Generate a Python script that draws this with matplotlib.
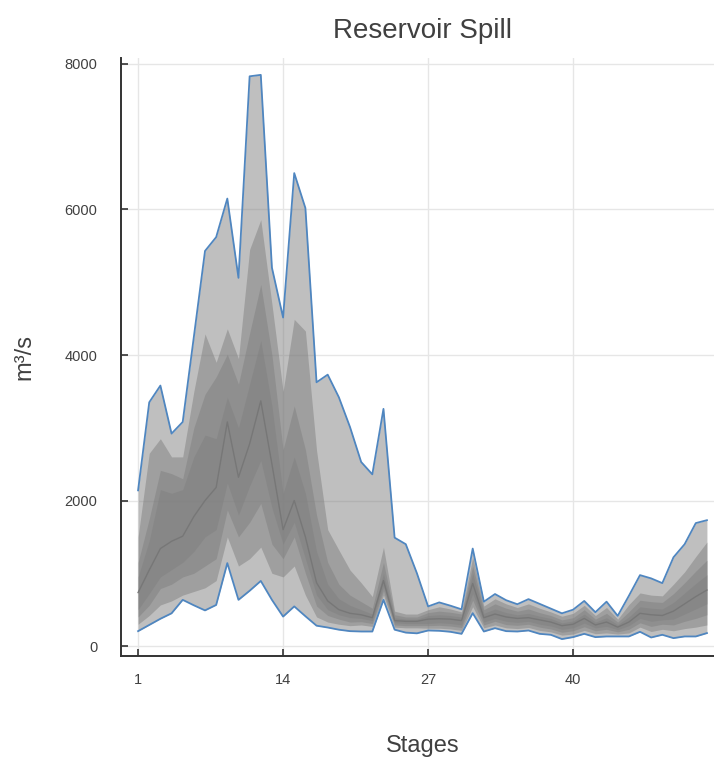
import numpy as np
import matplotlib.pyplot as plt

plt.rcParams['font.family'] = ['Liberation Sans', 'DejaVu Sans']

stages = np.arange(1, 53)

# spill quantiles per stage (m3/s): lowest/highest scenario and the inner bands
spill_min = [205, 290, 375, 450, 635, 560, 490, 565, 1140, 635, 760, 895, 635, 405, 545, 410,
             280, 255, 225, 205, 200, 200, 635, 225, 185, 175, 214, 210, 196, 168, 452, 200,
             246, 205, 200, 214, 168, 155, 96, 123, 168, 123, 132, 132, 132, 196, 118, 155,
             109, 132, 132, 178]
spill_lo3 = [300, 420, 565, 620, 700, 750, 800, 900, 1500, 1100, 1200, 1360, 1000, 950, 1100, 700,
             400, 330, 300, 280, 290, 270, 700, 260, 250, 250, 245, 245, 235, 215, 540, 250,
             290, 250, 240, 255, 215, 195, 150, 165, 215, 170, 180, 165, 180, 260, 200, 230,
             210, 240, 260, 290]
spill_lo2 = [400, 560, 790, 850, 950, 1000, 1100, 1200, 1870, 1500, 1700, 1960, 1400, 1200, 1500, 1000,
             550, 420, 370, 330, 335, 310, 760, 290, 280, 280, 280, 285, 275, 255, 630, 290,
             340, 295, 285, 300, 260, 235, 190, 210, 265, 210, 230, 195, 230, 320, 270, 300,
             290, 340, 380, 430]
spill_lo1 = [500, 720, 950, 1050, 1150, 1300, 1500, 1600, 2240, 1800, 2200, 2550, 1900, 1400, 1700, 1200,
             700, 500, 430, 390, 380, 350, 820, 320, 310, 310, 310, 320, 310, 290, 720, 330,
             380, 340, 325, 340, 300, 275, 230, 250, 315, 250, 270, 225, 280, 380, 340, 360,
             370, 440, 510, 580]
spill_med = [735, 1045, 1340, 1440, 1510, 1780, 2000, 2180, 3080, 2320, 2780, 3370, 2500, 1600, 2000, 1500,
             870, 620, 500, 450, 430, 390, 900, 350, 340, 340, 370, 375, 370, 350, 860, 390,
             440, 400, 380, 390, 360, 330, 280, 300, 380, 290, 330, 260, 330, 450, 430, 420,
             480, 580, 680, 770]
spill_hi1 = [950, 1450, 2150, 2100, 2150, 2600, 2900, 2850, 3420, 3000, 3600, 4200, 3300, 2100, 2600, 2100,
             1300, 850, 650, 560, 500, 440, 1000, 390, 370, 370, 420, 430, 420, 400, 1000, 450,
             510, 460, 430, 450, 410, 380, 320, 345, 440, 330, 390, 295, 400, 540, 520, 510,
             600, 730, 860, 980]
spill_hi2 = [1150, 1750, 2415, 2370, 2300, 3000, 3460, 3700, 4010, 3600, 4300, 4970, 4000, 2700, 3300, 2700,
             1800, 1150, 850, 700, 610, 520, 1150, 430, 400, 400, 460, 480, 465, 440, 1100, 500,
             580, 520, 480, 510, 460, 420, 360, 390, 500, 370, 450, 330, 470, 630, 610, 600,
             720, 870, 1030, 1180]
spill_hi3 = [1500, 2650, 2850, 2600, 2600, 3500, 4290, 3900, 4360, 3950, 5450, 5860, 4700, 3500, 4490, 4330,
             2690, 1600, 1320, 1045, 870, 680, 1360, 480, 440, 440, 500, 540, 510, 470, 1220, 550,
             650, 580, 530, 580, 520, 470, 410, 450, 560, 420, 530, 370, 570, 730, 700, 690,
             850, 1020, 1230, 1430]
spill_max = [2140, 3350, 3580, 2920, 3080, 4250, 5430, 5620, 6150, 5060, 7830, 7850, 5200, 4515, 6500, 6020,
             3625, 3730, 3420, 3010, 2530, 2360, 3260, 1490, 1400, 1000, 545, 600, 555, 505, 1340, 610,
             715, 630, 575, 645, 580, 515, 450, 500, 620, 465, 610, 415, 690, 975, 930, 865,
             1220, 1400, 1690, 1730]

xticks = [1, 14, 27, 40]
yticks = [0, 2000, 4000, 6000, 8000]

text_col = '#404040'

fig = plt.figure(figsize=(7.14, 7.6), dpi=100)
ax = fig.add_axes([0.1695, 0.1368, 0.8445, 0.787])

# nested bands, outermost first
bands = [(spill_min, spill_max), (spill_lo3, spill_hi3),
         (spill_lo2, spill_hi2), (spill_lo1, spill_hi1)]
for lo, hi in bands:
    ax.fill_between(stages, lo, hi, color='#808080', alpha=0.5, linewidth=0)

ax.plot(stages, spill_med, color='#777777', linewidth=1.0)
ax.plot(stages, spill_max, color='#4f86c0', linewidth=1.3)
ax.plot(stages, spill_min, color='#4f86c0', linewidth=1.3)

ax.set_xlim(-0.53, 53.53)
ax.set_ylim(-137, 8083)
ax.set_xticks(xticks)
ax.set_yticks(yticks)
ax.grid(True, color='#e6e6e6', linewidth=1.0)
ax.set_axisbelow(True)

for side in ['top', 'right']:
    ax.spines[side].set_visible(False)
for side in ['left', 'bottom']:
    ax.spines[side].set_color('#333333')
    ax.spines[side].set_linewidth(1.4)

ax.tick_params(direction='in', length=5, width=1.2, color='#333333',
               labelsize=10.5, labelcolor=text_col)
ax.tick_params(axis='x', pad=12)
ax.tick_params(axis='y', pad=17)

ax.set_title('Reservoir Spill', fontsize=20, color=text_col, pad=14)
ax.set_xlabel('Stages', fontsize=17, color=text_col, labelpad=35)
ax.set_ylabel('m³/s', fontsize=17, color=text_col, labelpad=21)

fig.savefig('out.png', dpi=100)
